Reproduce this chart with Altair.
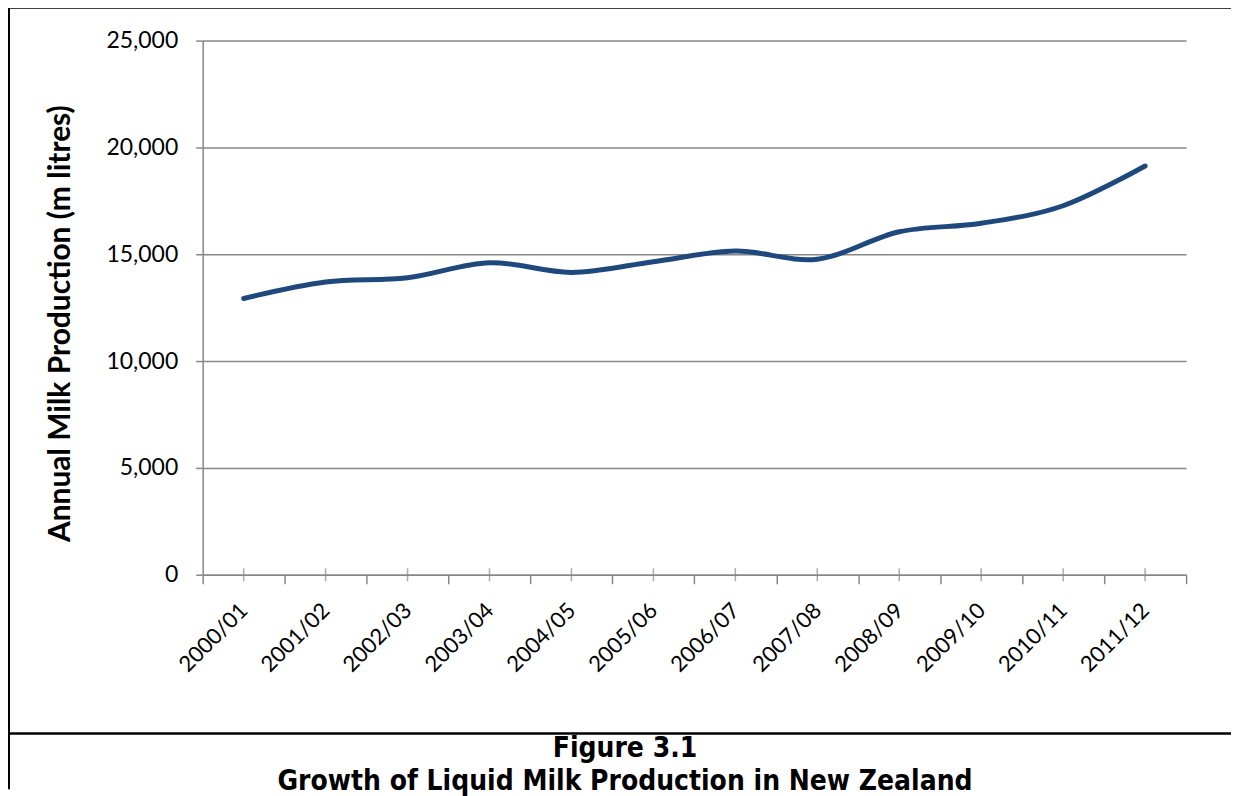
import altair as alt
import pandas as pd

# ---- data ----
years = ["2000/01", "2001/02", "2002/03", "2003/04", "2004/05", "2005/06",
         "2006/07", "2007/08", "2008/09", "2009/10", "2010/11", "2011/12"]
production = [12930, 13700, 13900, 14600, 14150, 14650,
              15150, 14770, 16050, 16450, 17270, 19130]
y_ticks = [0, 5000, 10000, 15000, 20000, 25000]
y_title = "Annual Milk Production (m litres)"
caption_lines = ["Figure 3.1", "Growth of Liquid Milk Production in New Zealand"]

df = pd.DataFrame({"year": years, "production": production})

GRAY = "#878787"
LINE = "#1F497D"
W, H = 985, 535
FONT = "Lato"
CAP_FONT = "DejaVu Sans Condensed, DejaVu Sans"

x_scale = alt.Scale(type="band", paddingInner=0, paddingOuter=0)

y_enc = alt.Y(
    "production:Q",
    scale=alt.Scale(domain=[0, 25000], nice=False),
    axis=alt.Axis(
        values=y_ticks, format=",.0f", title=y_title,
        titleFont=FONT, titleFontSize=30, titleFontWeight="bold", titleColor="black",
        titlePadding=30, titleY=283,
        labelFont=FONT, labelFontSize=23, labelColor="black", labelPadding=18,
        tickSize=7, tickColor=GRAY, tickWidth=1.5,
        domainColor=GRAY, domainWidth=1.5,
        grid=True, gridColor=GRAY, gridWidth=1.5,
    ),
)

line = alt.Chart(df).mark_line(
    color=LINE, strokeWidth=5, strokeCap="round", interpolate="cardinal"
).encode(
    x=alt.X("year:N", sort=years, scale=x_scale,
            axis=alt.Axis(title=None, orient="bottom", labelAngle=-45, labelAlign="right",
                          labelBaseline="middle", labelFont=FONT, labelFontSize=22,
                          labelColor="black", labelPadding=23,
                          tickBand="extent", tickSize=9, tickColor=GRAY, tickWidth=1.5,
                          domainColor=GRAY, domainWidth=1.5, grid=False)),
    y=y_enc,
)

# small cross ticks at each category centre, sitting on the zero baseline
cross_ticks = alt.Chart(df).mark_tick(
    orient="vertical", size=13, thickness=1.5, color=GRAY
).encode(
    x=alt.X("year:N", sort=years, scale=x_scale),
    y=alt.Y(datum=0),
)

one = alt.Data(values=[{"a": 1}])

top_rule = alt.Chart(one).mark_rule(color="black", strokeWidth=2).encode(
    x=alt.value(-195), x2=alt.value(1030), y=alt.value(-33))
left_rule = alt.Chart(one).mark_rule(color="black", strokeWidth=2).encode(
    x=alt.value(-194), y=alt.value(-34), y2=alt.value(750))
sep_rule = alt.Chart(one).mark_rule(color="black", strokeWidth=2.5).encode(
    x=alt.value(-195), x2=alt.value(1030), y=alt.value(694))

cap1 = alt.Chart(one).mark_text(
    font=CAP_FONT, fontSize=28, fontWeight="bold", color="black",
    align="center", baseline="middle"
).encode(x=alt.value(423), y=alt.value(710), text=alt.value(caption_lines[0]))
cap2 = alt.Chart(one).mark_text(
    font=CAP_FONT, fontSize=28, fontWeight="bold", color="black",
    align="center", baseline="middle"
).encode(x=alt.value(423), y=alt.value(743), text=alt.value(caption_lines[1]))

chart = alt.layer(
    line, cross_ticks, top_rule, left_rule, sep_rule, cap1, cap2
).properties(
    width=W, height=H, padding={"left": -2, "top": -3, "right": 0, "bottom": 0},
    background="white"
).configure_view(stroke=None)

chart.save("out.html", embed_options={"renderer": "svg", "actions": False})
